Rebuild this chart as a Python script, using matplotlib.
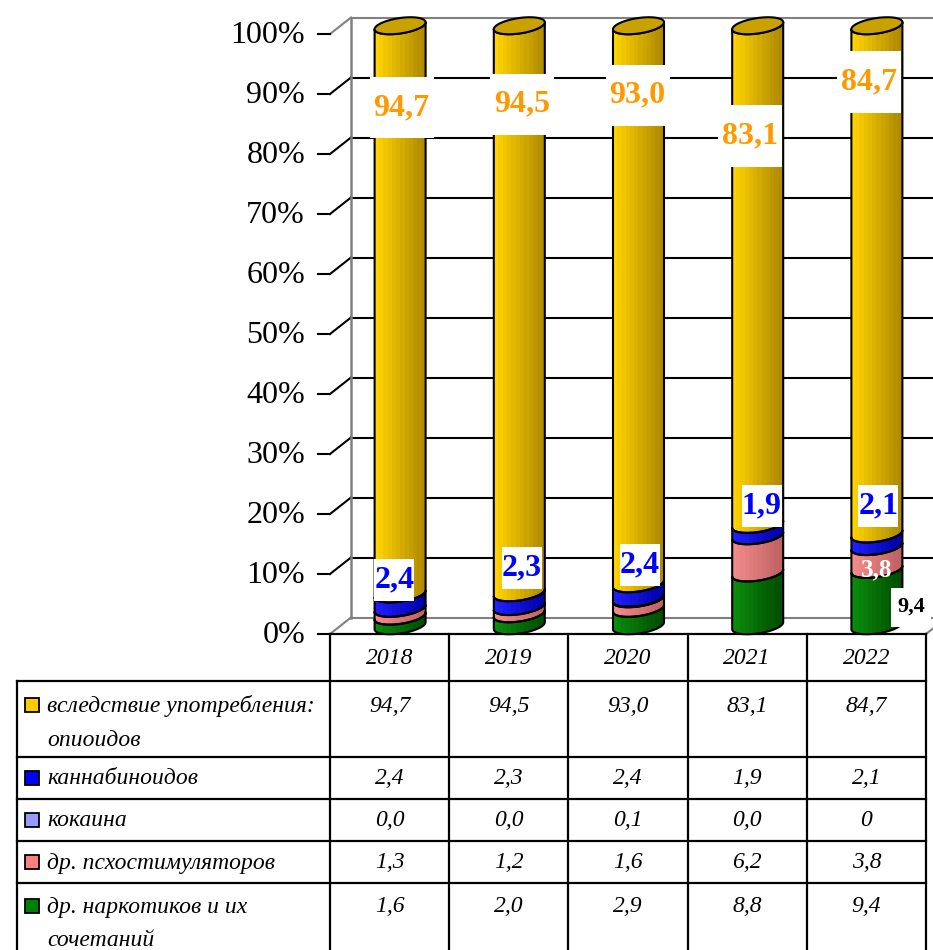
import numpy as np
import matplotlib
matplotlib.use("Agg")
import matplotlib.pyplot as plt
from matplotlib.patches import Polygon, Rectangle
from matplotlib.colors import LinearSegmentedColormap

# ---- data -------------------------------------------------------------
years = ["2018", "2019", "2020", "2021", "2022"]
opioids = [94.7, 94.5, 93.0, 83.1, 84.7]
cannabinoids = [2.4, 2.3, 2.4, 1.9, 2.1]
cocaine = [0.0, 0.0, 0.1, 0.0, 0]
psychostimulants = [1.3, 1.2, 1.6, 6.2, 3.8]
other_drugs = [1.6, 2.0, 2.9, 8.8, 9.4]

row_names = ["вследствие употребления:\nопиоидов", "каннабиноидов", "кокаина",
             "др. псхостимуляторов", "др. наркотиков и их\nсочетаний"]
y_ticks = [0, 10, 20, 30, 40, 50, 60, 70, 80, 90, 100]

# ---- styles -----------------------------------------------------------
key_colors = ["#FFCC00", "#0000FF", "#9999FF", "#FF8080", "#008000"]
shade = {  # light -> dark across each cylinder
    "op": ("#FFD400", "#B08A00"),
    "ca": ("#2020FF", "#0000A8"),
    "co": ("#A8A8FF", "#6060C0"),
    "ps": ("#F28C8C", "#C06262"),
    "ot": ("#0C8C0C", "#004E00"),
}
SERIF = "Liberation Serif"

W_PX, H_PX = 933, 950
fig = plt.figure(figsize=(W_PX / 100, H_PX / 100), dpi=100)
ax = fig.add_axes([0, 0, 1, 1])
ax.set_axis_off()

# plot frame: x=-0.5..4.5 spans px 330..926, y=0..100 spans px 634..34
X0_PX, X1_PX, Y0_PX, Y100_PX = 330, 926, 634, 34
SX = (X1_PX - X0_PX) / 5.0
SY = (Y0_PX - Y100_PX) / 100.0


def px2x(px):
    return (px - X0_PX) / SX - 0.5


def px2y(py):
    return (Y0_PX - py) / SY


ax.set_xlim(px2x(0), px2x(W_PX))
ax.set_ylim(px2y(H_PX), px2y(0))

DX = 21 / SX      # depth offset of the back wall
DY = 16.5 / SY

# ---- walls and grid ---------------------------------------------------
GRAY = "#808080"
xl, xr = -0.5, 4.5
for v in y_ticks:
    col = GRAY if v in (0, 100) else "black"
    # side wall diagonal
    ax.plot([xl, xl + DX], [v, v + DY], color=col, lw=1.5, zorder=1)
    # back wall line
    ax.plot([xl + DX, xr + DX + 1], [v + DY, v + DY], color=col, lw=1.5, zorder=1)
    # tick mark
    ax.plot([xl - 12 / SX, xl], [v, v], color="black", lw=1.5, zorder=1)
    ax.text(px2x(305), v - 0.3, f"{v}%", ha="right", va="center", fontsize=23,
            family=SERIF, color="black")
ax.plot([xl + DX, xl + DX], [DY, 100 + DY], color=GRAY, lw=1.8, zorder=1)
ax.plot([xr, xr + DX], [0, DY], color=GRAY, lw=1.5, zorder=1)

# ---- cylinders --------------------------------------------------------
HALF_W = 25.5 / SX
B = 10.5 / SX
A = np.sqrt(HALF_W ** 2 - B ** 2)
C = 8.5 / SY
TH_R = np.arctan2(B, A)


def ell(cx, y, th):
    return cx + A * np.cos(th) + B * np.sin(th), y + C * np.sin(th)


front = np.linspace(TH_R - np.pi, TH_R, 80)
stack = [(other_drugs, "ot"), (psychostimulants, "ps"), (cocaine, "co"),
         (cannabinoids, "ca"), (opioids, "op")]

for i in range(len(years)):
    cx = i + DX / 2
    base = DY / 2
    y0 = base
    for vals, key in stack:
        h = vals[i]
        if h <= 0:
            continue
        y1 = y0 + h
        tx, ty = ell(cx, y1, front)
        bx, by = ell(cx, y0, front[::-1])
        poly = Polygon(np.column_stack([np.r_[tx, bx], np.r_[ty, by]]),
                       closed=True, facecolor="none", edgecolor="black",
                       lw=1.5, zorder=4, joinstyle="round")
        ax.add_patch(poly)
        cmap = LinearSegmentedColormap.from_list(key, shade[key], N=12)
        grad = np.linspace(0, 1, 240).reshape(1, -1)
        im = ax.imshow(grad, cmap=cmap, aspect="auto", interpolation="nearest",
                       extent=(cx - HALF_W, cx + HALF_W, y0 - C, y1 + C),
                       zorder=3)
        im.set_clip_path(poly)
        y0 = y1
    th = np.linspace(0, 2 * np.pi, 160)
    ex, ey = ell(cx, y0, th)
    ax.add_patch(Polygon(np.column_stack([ex, ey]), closed=True,
                         facecolor="#C9A100", edgecolor="black", lw=1.5, zorder=5))

# ---- value labels -----------------------------------------------------
def fmt(v):
    if isinstance(v, int):
        return str(v)
    return f"{v:.1f}".replace(".", ",")


def boxed_label(x, y, s, color, size, box_w_px, box_h_px, dy_px=0):
    ax.add_patch(Rectangle((x - box_w_px / 2 / SX, y - box_h_px / 2 / SY),
                           box_w_px / SX, box_h_px / SY, facecolor="white",
                           edgecolor="none", zorder=6))
    ax.text(x, y + dy_px / SY, s, ha="center", va="center", fontsize=size,
            fontweight="bold", family=SERIF, color=color, zorder=7)


op_lab_dx = [0.10, 0.11, 0.08, 0.02, 0.02]
op_lab_y = [87.7, 88.3, 89.8, 83.0, 92.0]
ca_lab_dx = [0.04, 0.11, 0.10, 0.12, 0.10]
ca_lab_y = [9.0, 11.0, 11.5, 21.3, 21.3]
for i in range(len(years)):
    boxed_label(i + op_lab_dx[i], op_lab_y[i], fmt(opioids[i]), "#FF9900", 23, 64, 61)
    boxed_label(i + ca_lab_dx[i], ca_lab_y[i], fmt(cannabinoids[i]), "#0000FF", 23, 40, 42)

ax.text(4 + 0.09, 10.7, fmt(psychostimulants[4]), ha="center", va="center",
        fontsize=18, fontweight="bold", family=SERIF, color="white", zorder=7)
boxed_label(4 + 0.374, 4.5, fmt(other_drugs[4]), "black", 16, 40, 39)

# ---- data table -------------------------------------------------------
TLW = 1.6
left_x = px2x(17)
bottom_y = px2y(H_PX + 5)
row_lines_px = [681, 757, 799, 841, 883]
row_text_px = [706, 779, 821, 863, 907]
line_step_px = 34

ax.plot([xl, xr], [0, 0], color="black", lw=TLW, zorder=2)
for py in row_lines_px:
    ax.plot([left_x, xr], [px2y(py)] * 2, color="black", lw=TLW, zorder=2)
for k in range(6):
    ax.plot([xl + k, xl + k], [0, bottom_y], color="black", lw=TLW, zorder=2)
ax.plot([left_x, left_x], [px2y(row_lines_px[0]), bottom_y], color="black", lw=TLW)

tab_font = dict(fontsize=17, family=SERIF, style="italic", color="black")
for i, yr in enumerate(years):
    ax.text(i, px2y(659), yr, ha="center", va="center", **tab_font)

table_rows = [opioids, cannabinoids, cocaine, psychostimulants, other_drugs]
for r, (name, vals) in enumerate(zip(row_names, table_rows)):
    py = row_text_px[r]
    ax.add_patch(Rectangle((px2x(25), px2y(py + 6)), 14 / SX, 14 / SY,
                           facecolor=key_colors[r], edgecolor="black", lw=1.3))
    for j, line in enumerate(name.split("\n")):
        ax.text(px2x(47), px2y(py + j * line_step_px), line, ha="left",
                va="center", **tab_font)
    for i, v in enumerate(vals):
        ax.text(i, px2y(py), fmt(v), ha="center", va="center", **tab_font)

fig.savefig("out.png", dpi=100)
